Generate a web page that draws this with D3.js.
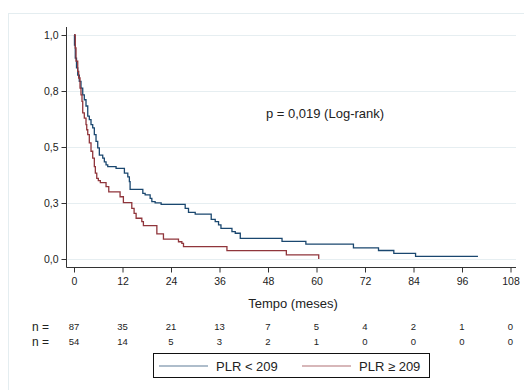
<!DOCTYPE html>
<html><head><meta charset="utf-8">
<script src="https://cdn.jsdelivr.net/npm/d3@7"></script>
<style>body{margin:0;background:#fff}svg{display:block}text{font-family:"Liberation Sans",Arial,sans-serif;fill:#222}</style>
</head><body>
<svg id="c" width="524" height="390"></svg>
<script>
// Data
const xTicks = [0,12,24,36,48,60,72,84,96,108];
const yTicks = [0,0.25,0.5,0.75,1];
const yTickLabels = ["0,0","0,3","0,5","0,8","1,0"];
const seriesNames = ["PLR < 209","PLR \u2265 209"];
const atRiskLow = [87,35,21,13,7,5,4,2,1,0];
const atRiskHigh = [54,14,5,3,2,1,0,0,0,0];
const blueTimes = [0,0.12,0.32,0.62,0.92,1.31,1.73,2.16,2.55,2.97,3.40,3.79,4.21,4.63,5.03,5.45,5.87,6.27,7.11,7.51,7.93,8.35,10.41,12.47,13.31,13.70,13.88,17.03,17.60,18.84,19.26,20.07,21.56,27.51,28.33,29.99,33.95,34.94,35.76,36.36,39.08,39.90,41.14,51.47,57.37,69.14,75.34,79.13,84.51,99.95];
const blueSurv = [1,0.955,0.897,0.853,0.821,0.793,0.763,0.733,0.711,0.683,0.638,0.622,0.600,0.585,0.555,0.525,0.496,0.464,0.450,0.434,0.420,0.412,0.405,0.383,0.367,0.345,0.311,0.293,0.286,0.271,0.256,0.251,0.244,0.226,0.208,0.200,0.177,0.167,0.152,0.137,0.122,0.115,0.092,0.079,0.066,0.050,0.038,0.025,0.012,0.012];
const redTimes = [0,0.32,0.50,0.92,1.16,1.49,1.73,1.98,2.16,2.55,2.97,3.15,3.40,3.79,4.21,4.63,5.03,5.28,5.63,6.02,6.52,7.93,8.60,11.40,12.22,14.30,14.87,15.37,16.78,17.17,20.50,22.13,25.85,26.69,27.09,37.84,52.54,60.55];
const redSurv = [1,0.942,0.883,0.838,0.808,0.763,0.733,0.704,0.652,0.629,0.600,0.577,0.555,0.518,0.481,0.450,0.412,0.383,0.360,0.350,0.341,0.323,0.300,0.278,0.252,0.226,0.204,0.182,0.167,0.149,0.112,0.089,0.077,0.070,0.055,0.037,0.018,0];
const colors = ["#1a476f","#90353b"];

const svg = d3.select("#c");
// outer frame
svg.append("rect").attr("x",8.5).attr("y",13.5).attr("width",540).attr("height",400)
  .attr("fill","none").attr("stroke","#e4edf0").attr("stroke-width",1);

const x = d3.scaleLinear().domain([0,108]).range([74,510.5]);
const y = d3.scaleLinear().domain([0,1]).range([259,35]);
const axisX = 66.5, axisY = 267.5, rightX = 516;

// gridlines
svg.append("g").selectAll("line").data(yTicks).join("line")
  .attr("x1",axisX+1).attr("x2",rightX).attr("y1",d=>Math.round(y(d))+0.5).attr("y2",d=>Math.round(y(d))+0.5)
  .attr("stroke","#e6eef1").attr("stroke-width",1.2);

// y axis
const yAxis = d3.axisLeft(y).tickValues(yTicks).tickFormat((d,i)=>yTickLabels[i]).tickSize(5).tickPadding(3);
const gy = svg.append("g").attr("transform",`translate(${axisX},0)`).call(yAxis);
gy.select(".domain").attr("d",`M0,27V${axisY}`).attr("stroke","#333");
gy.selectAll(".tick line").attr("stroke","#333");
gy.selectAll("text").style("font-size","10.5px").attr("fill","#222");

// x axis
const xAxis = d3.axisBottom(x).tickValues(xTicks).tickSize(5).tickPadding(5);
const gx = svg.append("g").attr("transform",`translate(0,${axisY})`).call(xAxis);
gx.select(".domain").attr("d",`M${axisX},0H${rightX}`).attr("stroke","#333");
gx.selectAll(".tick line").attr("stroke","#333");
gx.selectAll("text").style("font-size","10.5px").attr("fill","#222");

// axis title
svg.append("text").attr("x",293).attr("y",308).attr("text-anchor","middle").style("font-size","13px").text("Tempo (meses)");

// curves
const line = d3.line().x(d=>x(d[0])).y(d=>y(d[1])).curve(d3.curveStepAfter);
const series = [d3.zip(blueTimes,blueSurv), d3.zip(redTimes,redSurv)];
svg.append("g").selectAll("path").data(series).join("path")
  .attr("d",line).attr("fill","none").attr("stroke",(d,i)=>colors[i]).attr("stroke-width",1.3);

// p-value
svg.append("text").attr("x",325).attr("y",117.5).attr("text-anchor","middle").style("font-size","13px").text("p = 0,019 (Log-rank)");

// at risk
[atRiskLow, atRiskHigh].forEach((arr,r)=>{
  const yy = 329.5 + r*15;
  svg.append("text").attr("x",32).attr("y",yy+1).style("font-size","12px").text("n =");
  svg.append("g").selectAll("text").data(arr).join("text")
    .attr("x",(d,i)=>x(xTicks[i])).attr("y",yy).attr("text-anchor","middle").style("font-size","9.5px").text(d=>d);
});

// legend
const lg = svg.append("g");
lg.append("rect").attr("x",153.5).attr("y",353.5).attr("width",276).attr("height",24).attr("fill","#fff").attr("stroke","#111");
const legX = [159,302];
seriesNames.forEach((n,i)=>{
  lg.append("line").attr("x1",legX[i]).attr("x2",legX[i]+49).attr("y1",366).attr("y2",366).attr("stroke",colors[i]).attr("stroke-width",1.2).attr("opacity",0.7);
  lg.append("text").attr("x",legX[i]+57).attr("y",371).style("font-size","13px").text(n);
});
</script>
</body></html>
